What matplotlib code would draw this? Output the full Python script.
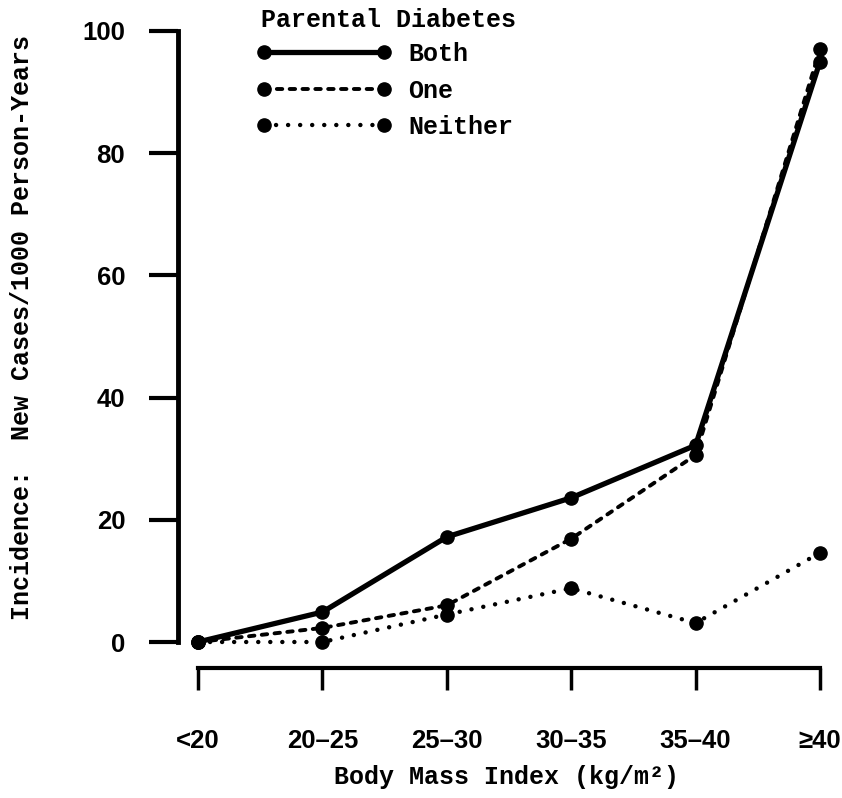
import matplotlib
matplotlib.use("Agg")
import matplotlib.pyplot as plt

# Incidence of diabetes by BMI category and parental history
categories = ["<20", "20–25", "25–30", "30–35", "35–40", "≥40"]
both = [0.0, 4.9, 17.2, 23.6, 32.2, 95.0]
one = [0.0, 2.3, 6.0, 16.9, 30.6, 97.0]
neither = [0.0, 0.0, 4.5, 8.8, 3.1, 14.6]
series_labels = ["Both", "One", "Neither"]
legend_title = "Parental Diabetes"
y_ticks = [0, 20, 40, 60, 80, 100]

W, H = 842, 798
fig = plt.figure(figsize=(W / 100, H / 100), dpi=100)
fig.patch.set_facecolor("white")

# axes geometry in pixels
px_per_x = 124.4
px_per_y = 6.11
left_px, right_px = 178, 842
xmin = -(198 - left_px) / px_per_x
xmax = xmin + (right_px - left_px) / px_per_x
ymin, ymax = -6, 102
top_px = 642 - ymax * px_per_y
bottom_px = 642 - ymin * px_per_y
ax = fig.add_axes([left_px / W, 1 - bottom_px / H,
                   (right_px - left_px) / W, (bottom_px - top_px) / H])
ax.set_xlim(xmin, xmax)
ax.set_ylim(ymin, ymax)

mono = {"family": ["Liberation Mono", "DejaVu Sans Mono"], "weight": "bold"}
sans = {"family": ["Liberation Sans", "DejaVu Sans"], "weight": "bold"}

x = list(range(len(categories)))
ms = 9.5
ax.plot(x, both, color="black", lw=3.8, ls="-", marker="o", ms=ms,
        solid_capstyle="round", label=series_labels[0], clip_on=False, zorder=4)
ax.plot(x, one, color="black", lw=2.8, ls=(0, (1.4, 1.9)), marker="o", ms=ms,
        dash_capstyle="round", label=series_labels[1], clip_on=False, zorder=3)
ax.plot(x, neither, color="black", lw=3.2, ls=(0, (0.01, 2.7)), marker="o", ms=ms,
        dash_capstyle="round", label=series_labels[2], clip_on=False, zorder=3)

# spines: bracket-like axes
for s in ["top", "right"]:
    ax.spines[s].set_visible(False)
ax.spines["left"].set_bounds(0, 100)
ax.spines["left"].set_linewidth(3.5)
ax.spines["bottom"].set_position(("data", -(668 - 642) / px_per_y))
ax.spines["bottom"].set_bounds(0, 5)
ax.spines["bottom"].set_linewidth(3.0)

ax.set_yticks(y_ticks)
ax.set_yticklabels([str(v) for v in y_ticks], fontdict=sans, fontsize=18.5)
ax.tick_params(axis="y", direction="out", length=21, width=3.0, pad=17)

ax.set_xticks(x)
ax.set_xticklabels(categories, fontdict=sans, fontsize=18.5)
ax.tick_params(axis="x", direction="out", length=16, width=2.5, pad=28)

fig.text(22 / W, 1 - 328 / H, "Incidence:  New Cases/1000 Person-Years",
         fontdict=mono, fontsize=18, rotation=90, ha="center", va="center")
fig.text(506 / W, 1 - 777 / H, "Body Mass Index (kg/m²)",
         fontdict=mono, fontsize=18, ha="center", va="center")

# legend with its heading set just above the entries
fig.text(261 / W, 1 - 20 / H, legend_title, fontdict=mono, fontsize=18,
         ha="left", va="center")
leg = ax.legend(loc="upper left",
                bbox_to_anchor=(256 / W, 1 - 42 / H), bbox_transform=fig.transFigure,
                frameon=False, numpoints=2, handlelength=5.4, handletextpad=0.7,
                labelspacing=0.5, borderpad=0, borderaxespad=0,
                prop={"family": mono["family"], "weight": "bold", "size": 18})

fig.savefig("out.png", dpi=100, facecolor="white")
